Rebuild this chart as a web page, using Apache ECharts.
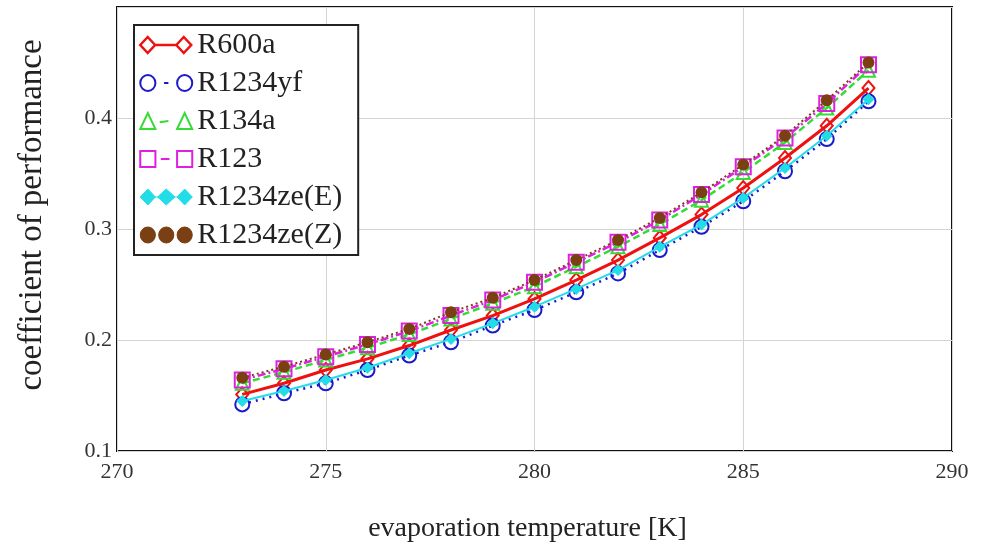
<!DOCTYPE html>
<html>
<head>
<meta charset="utf-8">
<script src="https://cdn.jsdelivr.net/npm/echarts@6/dist/echarts.min.js"></script>
<style>html,body{margin:0;padding:0;background:#fff;}#c{width:985px;height:546px;}</style>
</head>
<body>
<div id="c"></div>
<script>
const temps = [273,274,275,276,277,278,279,280,281,282,283,284,285,286,287,288];
const R600a = [0.151,0.161,0.173,0.183,0.195,0.209,0.222,0.237,0.254,0.272,0.292,0.313,0.337,0.364,0.393,0.427];
const R1234yf = [0.142,0.152,0.161,0.173,0.186,0.198,0.213,0.227,0.243,0.260,0.281,0.302,0.325,0.352,0.381,0.415];
const R134a = [0.161,0.171,0.182,0.193,0.205,0.219,0.233,0.248,0.266,0.284,0.304,0.326,0.351,0.378,0.409,0.443];
const R123 = [0.164,0.174,0.185,0.196,0.208,0.222,0.236,0.252,0.270,0.288,0.308,0.331,0.356,0.382,0.413,0.448];
const R1234zeE = [0.145,0.154,0.164,0.175,0.188,0.201,0.215,0.230,0.246,0.263,0.284,0.304,0.328,0.355,0.384,0.417];
const R1234zeZ = [0.166,0.176,0.187,0.198,0.210,0.225,0.238,0.254,0.272,0.290,0.310,0.333,0.358,0.384,0.416,0.450];
const seriesNames = ['R600a','R1234yf','R134a','R123','R1234ze(E)','R1234ze(Z)'];
const xTitle = 'evaporation temperature [K]';
const yTitle = 'coefficient of performance';

const FONT = '"Liberation Serif", "Times New Roman", serif';
const pts = ys => temps.map((t, i) => [t, ys[i]]);

const defs = [
  {data: R600a, color: '#ee1111', symbol: 'diamond', size: [12, 14], hollow: true, width: 3, type: 'solid',
   icon: 'path://M1,8 L8,1 L15,8 L8,15 Z M15,8 L35,8 M35,8 L42,1 L49,8 L42,15 Z M49,8 L50,8', lw: 2.5},
  {data: R1234yf, color: '#1a1acc', symbol: 'circle', size: 14, hollow: true, width: 2.5, type: [2, 5],
   icon: 'path://M1,8 A7,7 0 1,1 15,8 A7,7 0 1,1 1,8 Z M23,8 L27,8 M35,8 A7,7 0 1,1 49,8 A7,7 0 1,1 35,8 Z', lw: 2},
  {data: R134a, color: '#33dd33', symbol: 'triangle', size: 13, hollow: true, width: 2.5, type: [7, 4],
   icon: 'path://M1,15 L8,1 L15,15 Z M19,9 L27,8 M35,15 L42,1 L49,15 Z', lw: 2},
  {data: R123, color: '#e020e0', symbol: 'rect', size: 15, hollow: true, width: 2.5, type: [8, 3, 2, 3],
   icon: 'path://M1,1 L15,1 L15,15 L1,15 Z M20,8 L28,8 M35,1 L49,1 L49,15 L35,15 Z', lw: 2},
  {data: R1234zeE, color: '#22dde8', symbol: 'diamond', size: 12, hollow: false, width: 2, type: 'solid',
   icon: 'path://M1,8 L8,1 L15,8 L8,15 Z M17,8 L25,1 L33,8 L25,15 Z M35,8 L42,1 L49,8 L42,15 Z M1,8 L49,8', lw: 1},
  {data: R1234zeZ, color: '#7a3f12', symbol: 'circle', size: 12, hollow: false, width: 2, type: [2, 3],
   icon: 'path://M1,8 A7,7 0 1,1 15,8 A7,7 0 1,1 1,8 Z M18,8 A7,7 0 1,1 32,8 A7,7 0 1,1 18,8 Z M35,8 A7,7 0 1,1 49,8 A7,7 0 1,1 35,8 Z', lw: 1}
];

const series = defs.map((d, i) => ({
  name: seriesNames[i],
  type: 'line',
  data: pts(d.data),
  color: d.color,
  symbol: d.symbol,
  symbolSize: d.size,
  showAllSymbol: true,
  smooth: false,
  z: 2 + i,
  lineStyle: {color: d.color, width: d.width, type: d.type},
  itemStyle: d.hollow
    ? {color: 'rgba(255,255,255,0)', borderColor: d.color, borderWidth: 2}
    : {color: d.color, borderColor: d.color, borderWidth: 0},
  emphasis: {disabled: true},
  animation: false
}));

const legendData = defs.map((d, i) => ({
  name: seriesNames[i],
  icon: d.icon,
  itemStyle: d.hollow
    ? {color: 'rgba(255,255,255,0)', borderColor: d.color, borderWidth: d.lw}
    : {color: d.color, borderColor: d.color, borderWidth: d.lw}
}));

const chart = echarts.init(document.getElementById('c'), null, {renderer: 'canvas'});
chart.setOption({
  animation: false,
  backgroundColor: '#fff',
  grid: {left: 117, right: 33, top: 7, bottom: 95, show: true, borderColor: '#111', borderWidth: 2,
    backgroundColor: 'transparent', containLabel: false, outerBoundsMode: 'none'},
  xAxis: {
    type: 'value', min: 270, max: 290, interval: 5,
    name: xTitle, nameLocation: 'middle', nameGap: 64,
    nameTextStyle: {fontFamily: FONT, fontSize: 28, color: '#222', padding: [0, 14, 0, 0]},
    axisLine: {show: false}, axisTick: {show: false},
    axisLabel: {fontFamily: FONT, fontSize: 22, color: '#333', margin: 10},
    splitLine: {show: true, lineStyle: {color: '#d4d4d4', width: 1}}
  },
  yAxis: {
    type: 'value', min: 0.1, max: 0.5, interval: 0.1,
    name: yTitle, nameLocation: 'middle', nameGap: 68, nameRotate: 90,
    nameTextStyle: {fontFamily: FONT, fontSize: 33, color: '#222', padding: [0, 0, 0, 28]},
    axisLine: {show: false}, axisTick: {show: false},
    axisLabel: {fontFamily: FONT, fontSize: 22, color: '#333', margin: 5, showMaxLabel: false,
      formatter: v => (Math.round(v * 10) / 10).toFixed(1)},
    splitLine: {show: true, lineStyle: {color: '#d4d4d4', width: 1}}
  },
  legend: {
    orient: 'vertical', left: 134, top: 25,
    backgroundColor: '#fff', borderColor: '#222', borderWidth: 2,
    padding: [5, 16, 5, 5],
    itemWidth: 52, itemHeight: 16, itemGap: 8,
    symbolKeepAspect: false,
    selectedMode: false,
    textStyle: {fontFamily: FONT, fontSize: 30, color: '#222', lineHeight: 30},
    data: legendData
  },
  series: series
});
</script>
</body>
</html>
